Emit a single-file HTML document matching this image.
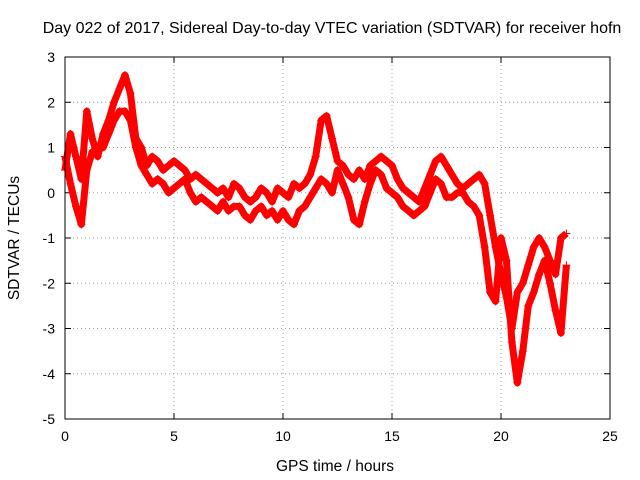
<!DOCTYPE html>
<html><head><meta charset="utf-8"><style>
body{margin:0;background:#fff}
svg{display:block;font-family:"Liberation Sans",sans-serif}
</style></head><body>
<svg id="chart" width="640" height="480" viewBox="0 0 640 480">
<rect x="0" y="0" width="640" height="480" fill="#fff"/>
<text x="332" y="33" font-size="16" text-anchor="middle">Day 022 of 2017, Sidereal Day-to-day VTEC variation (SDTVAR) for receiver hofn</text>
<text x="335" y="471" font-size="15.5" text-anchor="middle">GPS time / hours</text>
<text transform="translate(19,238) rotate(-90)" font-size="15.5" text-anchor="middle">SDTVAR / TECUs</text>
<g id="grid"></g><g id="ticks"></g><g id="marks"></g>
<rect x="65" y="57" width="545" height="362" fill="none" stroke="#000" stroke-width="1"/>
</svg>
<script>
const xTicks=[0,5,10,15,20,25];
const yTicks=[3,2,1,0,-1,-2,-3,-4,-5];
const times=[];for(let i=0;i<=92;i++)times.push(i*0.25);
const upperTrack=[0.5,1.3,0.8,0.3,1.8,1.2,0.8,1.3,1.6,2.0,2.3,2.6,2.2,1.2,1.0,0.6,0.8,0.7,0.5,0.6,0.7,0.6,0.5,0.3,0.4,0.3,0.2,0.1,0.0,0.1,-0.1,0.2,0.1,-0.1,-0.2,-0.1,0.1,0.0,-0.2,0.1,0.0,-0.1,0.2,0.1,0.2,0.4,0.8,1.6,1.7,1.2,0.7,0.6,0.4,0.3,0.5,0.3,0.6,0.7,0.8,0.7,0.6,0.3,0.1,0.0,-0.1,-0.2,0.1,0.4,0.7,0.8,0.6,0.4,0.2,0.1,0.2,0.3,0.4,0.2,-0.5,-1.2,-1.8,-2.3,-3.0,-2.2,-2.0,-1.6,-1.2,-1.0,-1.2,-1.5,-1.8,-1.0,-0.9];
const lowerTrack=[0.8,0.2,-0.3,-0.7,0.5,0.9,1.0,1.0,1.3,1.6,1.8,1.8,1.6,1.0,0.6,0.4,0.2,0.3,0.2,0.0,0.1,0.2,0.3,0.0,-0.2,-0.1,-0.2,-0.3,-0.4,-0.2,-0.4,-0.3,-0.3,-0.5,-0.6,-0.4,-0.3,-0.5,-0.4,-0.6,-0.4,-0.6,-0.7,-0.4,-0.3,-0.1,0.1,0.3,0.2,0.0,0.5,0.2,-0.1,-0.6,-0.7,-0.2,0.2,0.5,0.4,0.1,0.0,-0.1,-0.3,-0.4,-0.5,-0.4,-0.3,0.0,0.3,0.2,-0.1,-0.1,0.0,0.0,-0.2,-0.3,-0.5,-1.2,-2.2,-2.4,-1.0,-1.5,-3.3,-4.2,-3.5,-2.5,-2.2,-1.8,-1.5,-2.0,-2.6,-3.1,-1.6];
const X0=65,X1=610,Y0=57,Y1=419;
const xs=v=>X0+(v-0)/(25-0)*(X1-X0);
const ys=v=>Y0+(3-v)/(3-(-5))*(Y1-Y0);
const NS="http://www.w3.org/2000/svg";
const mk=(t,a,p)=>{const e=document.createElementNS(NS,t);for(const k in a)e.setAttribute(k,a[k]);p.appendChild(e);return e;};
const grid=document.getElementById('grid'),ticks=document.getElementById('ticks'),marks=document.getElementById('marks');
xTicks.forEach(t=>{const x=xs(t);
 if(t>0&&t<25){const g=mk('line',{x1:x,x2:x,y1:Y0,y2:Y1,stroke:'#a0a0a0','stroke-dasharray':'1,3'},grid);
 
 }
 mk('line',{x1:x,x2:x,y1:Y1,y2:Y1-6,stroke:'#000'},ticks);mk('line',{x1:x,x2:x,y1:Y0,y2:Y0+6,stroke:'#000'},ticks);
 const l=mk('text',{x:x,y:Y1+22,'font-size':14,'text-anchor':'middle'},ticks);l.textContent=t;
 
 });
yTicks.forEach(t=>{const y=ys(t);
 if(t<3&&t>-5){const g=mk('line',{x1:X0,x2:X1,y1:y,y2:y,stroke:'#a0a0a0','stroke-dasharray':'1,3'},grid);
 
 }
 mk('line',{x1:X0,x2:X0+6,y1:y,y2:y,stroke:'#000'},ticks);mk('line',{x1:X1,x2:X1-6,y1:y,y2:y,stroke:'#000'},ticks);
 const l=mk('text',{x:X0-10,y:y+5,'font-size':14,'text-anchor':'end'},ticks);l.textContent=t;
 
 });
[upperTrack,lowerTrack].forEach((tr,k)=>{
 const pts=tr.map((v,i)=>xs(times[i])+','+ys(v)).join(' ');
 const pl=mk('polyline',{points:pts,fill:'none',stroke:'#ff0000','stroke-width':7,'stroke-linejoin':'round'},marks);
 
 
 tr.forEach((v,i)=>{const x=xs(times[i]),y=ys(v);
  const p=mk('path',{d:`M${x-4},${y}h8M${x},${y-4}v8`,stroke:'#ff0000','stroke-width':1},marks);
  
  });
});
</script>
</body></html>
